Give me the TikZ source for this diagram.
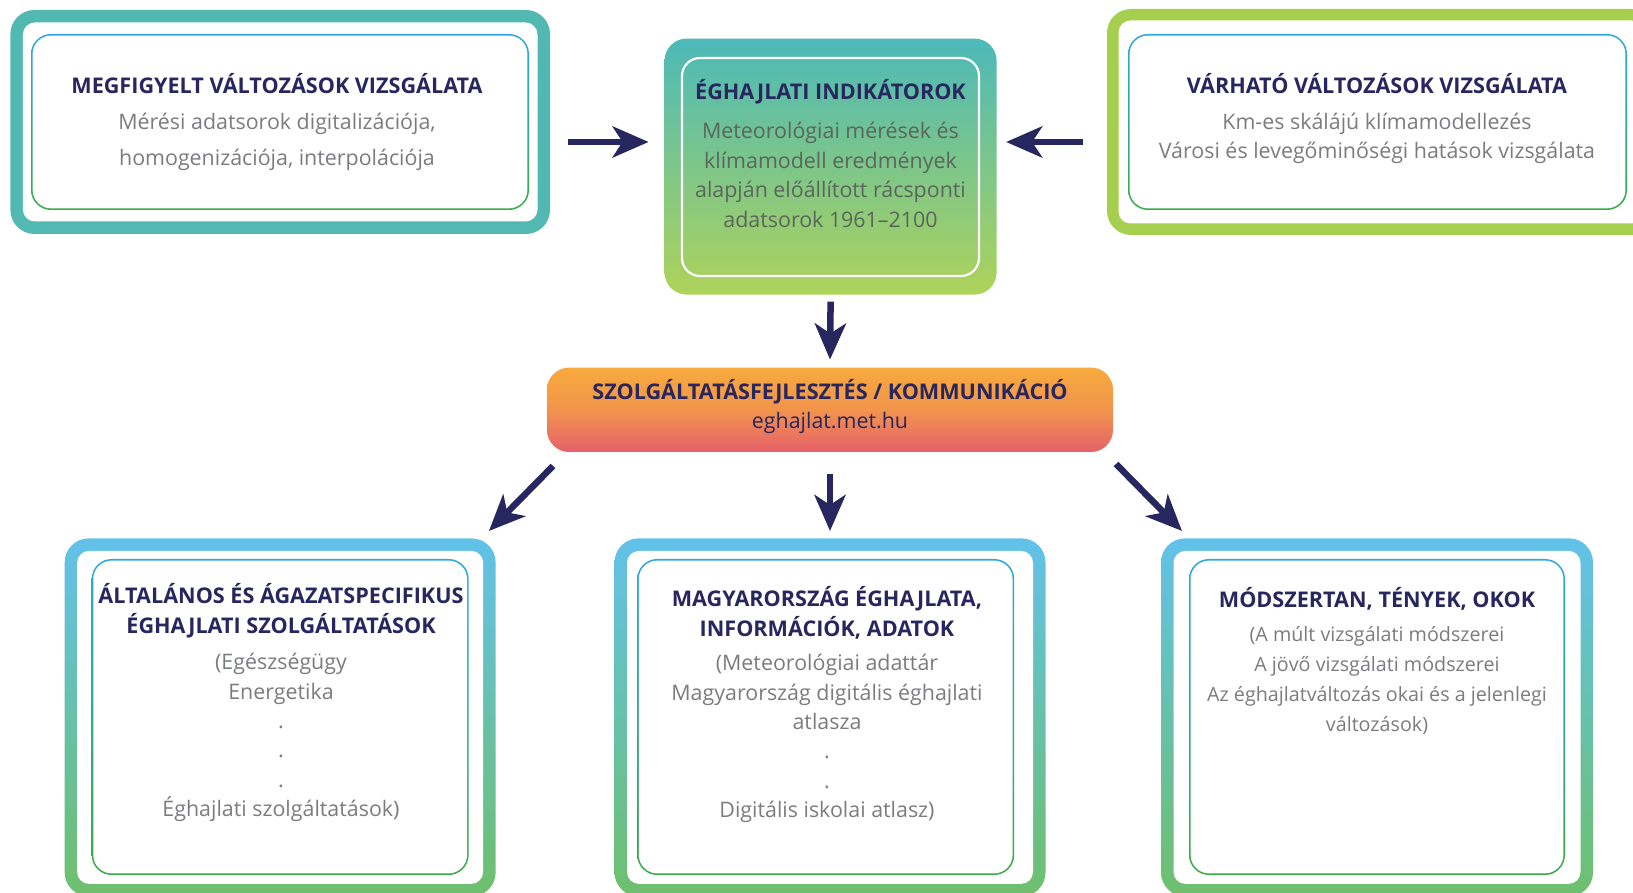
\documentclass[tikz,border=0pt]{standalone}
\usepackage{fontspec}
\setmainfont{Open Sans}
\usetikzlibrary{arrows.meta,calc}
\definecolor{navy}{HTML}{28265E}
\definecolor{bodygray}{HTML}{7B7C80}
\definecolor{ctrgray}{HTML}{5A665C}
\definecolor{tealb}{HTML}{52B9B2}
\definecolor{limeb}{HTML}{A6CE4F}
\definecolor{skyb}{HTML}{62C1E9}
\definecolor{leafb}{HTML}{6EC06C}
\definecolor{thinblue}{HTML}{2AA9E0}
\definecolor{thingreen}{HTML}{3AAA48}
\definecolor{ctrtop}{HTML}{4CB9B9}
\definecolor{ctrbot}{HTML}{AED35A}
\definecolor{orgtop}{HTML}{F7AA3E}
\definecolor{orgbot}{HTML}{E5616B}
\tikzset{
  geom/.style={inner sep=0pt, outer sep=0pt},
  ttl/.style={font=\fontsize{21.6}{30}\selectfont\bfseries, text=navy, align=center, inner sep=0pt},
  bdy/.style={font=\fontsize{21.4}{29.4}\selectfont, text=bodygray, align=center, inner sep=0pt},
  arr/.style={draw=navy, line width=6.5pt, -{Stealth[length=36pt, width=31pt, inset=10pt]}},
}
\begin{document}
\begin{tikzpicture}[x=1pt,y=1pt]
\useasboundingbox (0,0) rectangle (1633,893);

% ---------- geometry nodes ----------
\node[geom, minimum width=539.6pt, minimum height=224pt] (o1) at (280.2,771) {};
\node[geom, minimum width=498pt, minimum height=176pt] (i1) at (280,771) {};
\node[geom, minimum width=548pt, minimum height=226pt] (o3) at (1381,771) {};
\node[geom, minimum width=499pt, minimum height=176pt] (i3) at (1377.5,771) {};
\node[geom, minimum width=332pt, minimum height=256pt] (ctr) at (830.6,726.4) {};
\node[geom, minimum width=297pt, minimum height=218pt] (ctri) at (830.5,726) {};
\node[geom, minimum width=566pt, minimum height=84.4pt] (org) at (830,483.2) {};
\node[geom, minimum width=431pt, minimum height=358pt] (b1o) at (280.15,175.6) {};
\node[geom, minimum width=377pt, minimum height=316pt] (b1i) at (280.15,176) {};
\node[geom, minimum width=431pt, minimum height=358pt] (b2o) at (830,175.6) {};
\node[geom, minimum width=377pt, minimum height=316pt] (b2i) at (825.7,176) {};
\node[geom, minimum width=432pt, minimum height=358pt] (b3o) at (1377,175.6) {};
\node[geom, minimum width=376pt, minimum height=316pt] (b3i) at (1377,176) {};

% ---------- top-left box ----------
\fill[tealb, rounded corners=24pt] (o1.south west) rectangle (o1.north east);
\fill[white, rounded corners=12pt] ([shift={(12.5,12.5)}]o1.south west) rectangle ([shift={(-12.5,-12.5)}]o1.north east);
\shade[top color=thinblue, bottom color=thingreen, rounded corners=20pt] (i1.south west) rectangle (i1.north east);
\fill[white, rounded corners=18.5pt] ([shift={(1.6,1.6)}]i1.south west) rectangle ([shift={(-1.6,-1.6)}]i1.north east);

% ---------- top-right box ----------
\fill[limeb, rounded corners=24pt] (o3.south west) rectangle (o3.north east);
\fill[white, rounded corners=12pt] ([shift={(11.5,11.5)}]o3.south west) rectangle ([shift={(-11.5,-11.5)}]o3.north east);
\shade[top color=thinblue, bottom color=thingreen, rounded corners=20pt] (i3.south west) rectangle (i3.north east);
\fill[white, rounded corners=18.5pt] ([shift={(1.6,1.6)}]i3.south west) rectangle ([shift={(-1.6,-1.6)}]i3.north east);

% ---------- centre box ----------
\shade[top color=ctrtop, bottom color=ctrbot, rounded corners=22pt] (ctr.south west) rectangle (ctr.north east);
\draw[white, line width=2.2pt, rounded corners=18pt] (ctri.south west) rectangle (ctri.north east);

% ---------- orange box ----------
\shade[top color=orgtop, bottom color=orgbot, middle color=orgtop!70!orgbot, rounded corners=22pt] (org.south west) rectangle (org.north east);

% ---------- bottom boxes ----------
\foreach \o/\i in {b1o/b1i, b2o/b2i, b3o/b3i}{
  \shade[top color=skyb, bottom color=leafb, rounded corners=24pt] (\o.south west) rectangle (\o.north east);
  \fill[white, rounded corners=12pt] ([shift={(12.5,12.5)}]\o.south west) rectangle ([shift={(-12.5,-12.5)}]\o.north east);
  \shade[top color=thinblue, bottom color=thingreen, rounded corners=20pt] (\i.south west) rectangle (\i.north east);
  \fill[white, rounded corners=18.5pt] ([shift={(1.6,1.6)}]\i.south west) rectangle ([shift={(-1.6,-1.6)}]\i.north east);
}

% ---------- texts ----------
\node[ttl] (t1) at (277,809) {MEGFIGYELT VÁLTOZÁSOK VIZSGÁLATA};
\node[bdy, font=\fontsize{21.4}{36}\selectfont] (x1) at (277,751) {Mérési adatsorok digitalizációja,\\homogenizációja, interpolációja};

\node[ttl] (t3) at (1377,809) {VÁRHATÓ VÁLTOZÁSOK VIZSGÁLATA};
\node[bdy, font=\fontsize{21.4}{29}\selectfont] (x3) at (1377,754.5) {Km-es skálájú klímamodellezés\\Városi és levegőminőségi hatások vizsgálata};

\node[ttl] (tc) at (830.5,801) {ÉGHAJLATI INDIKÁTOROK};
\node[bdy, text=ctrgray] (xc) at (830.5,718) {Meteorológiai mérések és\\klímamodell eredmények\\alapján előállított rácsponti\\adatsorok 1961–2100};

\node[ttl] (to) at (830,501) {SZOLGÁLTATÁSFEJLESZTÉS / KOMMUNIKÁCIÓ};
\node[bdy, text=navy] (xo) at (830,470) {eghajlat.met.hu};

\node[ttl] (tb1) at (281,282) {ÁLTALÁNOS ÉS ÁGAZATSPECIFIKUS\\ÉGHAJLATI SZOLGÁLTATÁSOK};
\node[bdy] (xb1) at (281,155.5) {(Egészségügy\\Energetika\\.\\.\\.\\Éghajlati szolgáltatások)};

\node[ttl] (tb2) at (827,280) {MAGYARORSZÁG ÉGHAJLATA,\\INFORMÁCIÓK, ADATOK};
\node[bdy] (xb2) at (827,154.5) {(Meteorológiai adattár\\Magyarország digitális éghajlati\\atlasza\\.\\.\\Digitális iskolai atlasz)};

\node[ttl] (tb3) at (1377,294) {MÓDSZERTAN, TÉNYEK, OKOK};
\node[bdy, font=\fontsize{19.7}{29.7}\selectfont] (xb3) at (1377,212.5) {(A múlt vizsgálati módszerei\\A jövő vizsgálati módszerei\\Az éghajlatváltozás okai és a jelenlegi\\változások)};

% ---------- arrows ----------
\coordinate (a1) at ([shift={(18,-20)}]o1.east);
\draw[arr, shorten >=16pt] (a1) -- (a1 -| ctr.west);
\coordinate (a3) at ([shift={(-24,-20)}]o3.west);
\draw[arr, shorten >=9.5pt] (a3) -- (a3 -| ctr.east);
\draw[arr] ([yshift=-7]ctr.south) -- ([yshift=8]org.north);
\draw[arr] ([shift={(6,-14)}]org.south west) -- ([shift={(-6.7,7.4)}]b1o.north east);
\draw[arr] ([yshift=-22]org.south) -- ([yshift=7.4]b2o.north);
\draw[arr] ([shift={(3,-12)}]org.south east) -- ([shift={(21,7.4)}]b3o.north west);
\end{tikzpicture}
\end{document}
